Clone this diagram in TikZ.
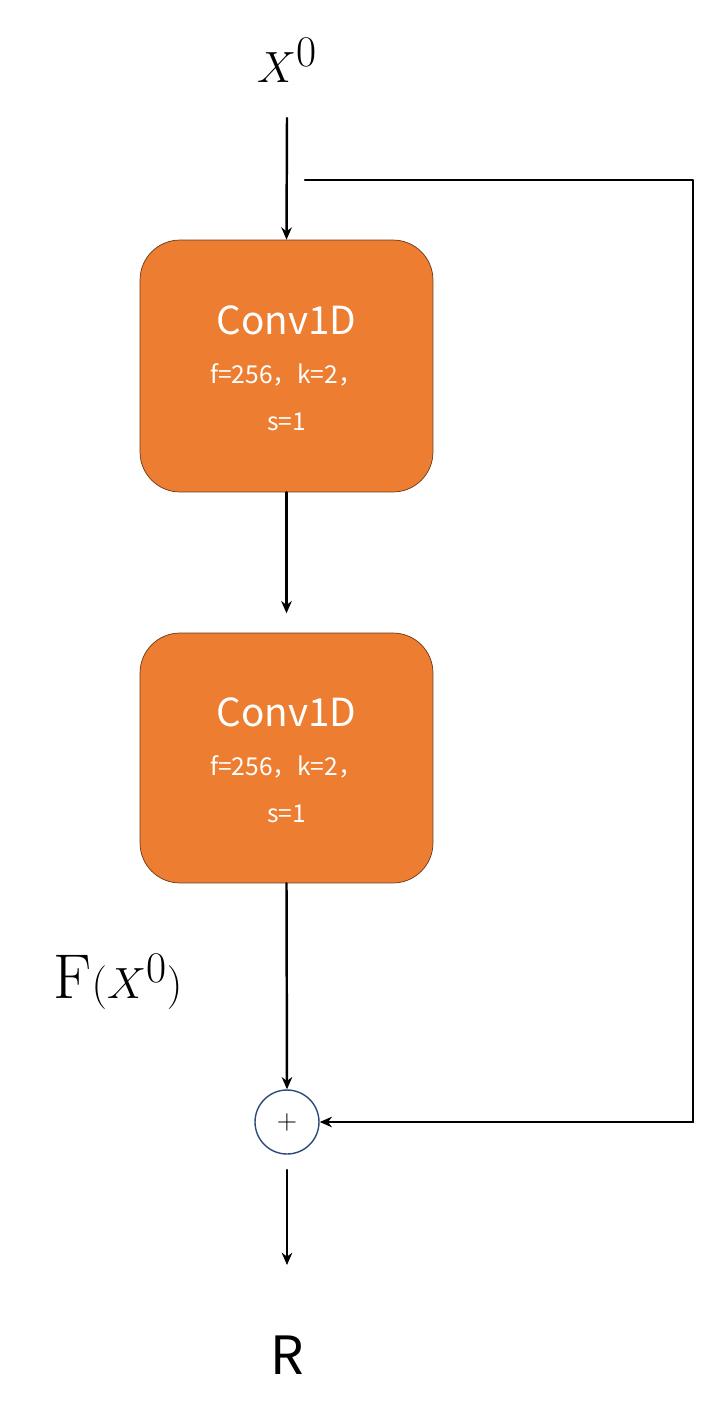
\documentclass[tikz,border=0pt]{standalone}
\usepackage{fontspec}
\newfontfamily\cjk{Noto Sans CJK SC}
\usetikzlibrary{arrows.meta}
\definecolor{convorange}{HTML}{ED7D31}
\definecolor{convedge}{HTML}{6B3A1A}
\definecolor{sumblue}{HTML}{2F4A7A}
\begin{document}
\begin{tikzpicture}[x=0.02cm,y=-0.02cm,line cap=round,line join=round,
  conv/.style={draw=convedge,fill=convorange,rounded corners=0.8cm,minimum width=5.86cm,minimum height=5.04cm},
  title/.style={text=white,font=\cjk\fontsize{22}{22}\selectfont,inner sep=0pt},
  param/.style={text=white,font=\cjk\fontsize{14}{14}\selectfont,inner sep=0pt},
  flow/.style={line width=1.4pt,-{Stealth[length=7pt,width=6pt]}},
  skip/.style={line width=1.4pt}]
\useasboundingbox (0,0) rectangle (715,1427);
% labels
\node (x0) at (287,60) {\fontsize{40}{40}\selectfont $X^0$};
\node (fx) at (118,982) {\fontsize{36}{36}\selectfont $\mathrm{F}(X^0)$};
\node (r) at (287,1355) {\cjk\fontsize{30}{30}\selectfont R};
% blocks
\node[conv] (conv1) at (286.5,366) {};
\node[title] (t1) at (286.5,320) {Conv1D};
\node[param] (f1) at (286.5,375) {f=256，k=2，};
\node[param] (s1) at (286.5,422) {s=1};
\node[conv,minimum height=5cm] (conv2) at (286.5,758) {};
\node[title] (t2) at (286.5,712) {Conv1D};
\node[param] (f2) at (286.5,767) {f=256，k=2，};
\node[param] (s2) at (286.5,814) {s=1};
\node[circle,draw=sumblue,line width=0.8pt,minimum size=1.28cm,inner sep=0pt] (sum) at (287,1122) {\fontsize{16}{16}\selectfont +};
% connectors
\coordinate (in) at (287,118);
\coordinate (tap) at (305,180);
\coordinate (out) at (287,1265);
\draw[flow] (in) -- (conv1.north);
\draw[flow] (conv1.south) -- ++(0,121);
\draw[flow] (conv2.south) -- (sum.north);
\draw[flow] (287,1170) -- (out);
\draw[skip] (tap) -- (693,180) -- (693,1122);
\draw[flow] (693,1122) -- (sum.east);
\end{tikzpicture}
\end{document}
